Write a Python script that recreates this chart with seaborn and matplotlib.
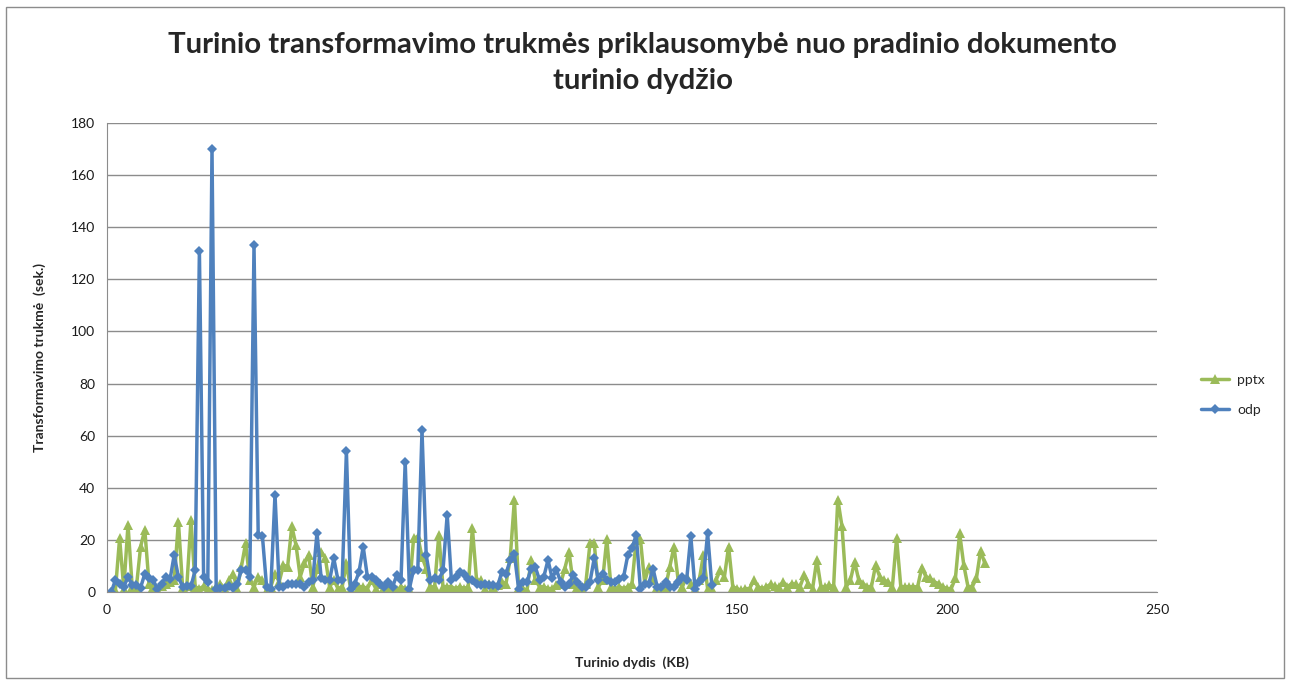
import numpy as np
import pandas as pd
import seaborn as sns
import matplotlib.pyplot as plt
from matplotlib.patches import Rectangle

# odp: transformation time (s), one point per KB starting at 1
odp_vals = [0, 4.5, 3.2, 2, 5.8, 2.6, 2.6, 1.7, 7, 5.2,
            4.5, 1.3, 3.2, 5.8, 4.8, 14.2, 5.8, 2, 2.2, 2.2,
            8.4, 131, 5.8, 3.9, 170, 1.3, 1.5, 1.5, 2.2, 1.5,
            3, 8.6, 8.4, 5.8, 133, 22, 21.5, 2, 1.3, 37.4,
            2, 2, 3.2, 3.2, 3.2, 3.2, 2, 3.9, 4.5, 22.8,
            5.2, 4.5, 4.5, 12.9, 4.5, 4.5, 54, 1.3, 3.2, 7.7,
            17.4, 5.8, 5.8, 4.5, 3.2, 2, 3.9, 2, 6.5, 4.5,
            50, 1.3, 8.6, 8.4, 62, 14.2, 4.5, 5.2, 4.5, 8.4,
            29.7, 4.5, 5.8, 7.7, 7, 4.8, 4.5, 3.2, 2.6, 3,
            2.6, 2.6, 2.2, 7.7, 7, 12.3, 14.6, 1.3, 3.9, 3.9,
            9, 9.5, 4.5, 5.8, 12.3, 5.2, 8.6, 3.9, 2, 3.2,
            6.5, 3.9, 2, 2, 3.9, 12.9, 4.5, 7, 4.5, 3.9,
            3.9, 4.8, 5.8, 14.2, 16.8, 21.9, 1.3, 3.2, 3.2, 9,
            2, 2, 3.9, 2, 2, 3.9, 5.8, 4.5, 21.5, 1.3,
            3.9, 5.2, 22.6, 2.6]

# pptx: transformation time (s), one point per KB starting at 1
pptx_vals = [0, 0.6, 20.6, 1.3, 25.8, 2, 2, 17.4, 23.9, 3.2,
             2, 1.3, 2.2, 3.2, 3.9, 4.5, 27, 2, 2.2, 27.7,
             2, 1.3, 2.2, 1.3, 0.6, 2, 3.2, 1.3, 4.5, 7,
             1.3, 9.7, 18.7, 4.5, 2, 5.8, 4.5, 0.6, 2, 7,
             3.9, 10.3, 9.7, 25.2, 18, 5.8, 11, 14.2, 2, 9,
             15.5, 12.9, 2, 4.5, 1.3, 2, 11, 1.3, 3.2, 2,
             2, 1.3, 4.5, 1.3, 3.2, 2, 2, 0.6, 0.6, 2,
             1.3, 1.3, 20.6, 21.3, 13.5, 9, 2, 2, 21.9, 2,
             2, 2, 1.3, 2, 1.3, 2, 24.5, 4.5, 4.5, 1.3,
             3.2, 2, 2.6, 3.9, 3.2, 12.9, 35.5, 2, 1.3, 0.6,
             12.3, 4.5, 2, 2, 1.3, 1.3, 2.6, 3.2, 9, 15.5,
             3.2, 2, 1.3, 3.2, 18.7, 18.7, 2, 4.5, 20.3, 2,
             1.3, 2, 1.3, 2, 3.2, 20, 20.3, 3.9, 9.7, 4.5,
             2, 1.3, 2, 9.7, 17.4, 4.5, 2, 5.8, 3.2, 1.3,
             4.5, 14.2, 1.3, 1.3, 4.5, 8.4, 5.8, 17.4, 2, 1.3,
             0.6, 1.3, 1.3, 4.5, 2, 1.3, 2, 3, 2.2, 2,
             3.9, 2, 3.2, 3, 2, 6.5, 3.2, 1.3, 12.3, 2,
             2, 2.6, 2, 35.5, 25.2, 2, 4.5, 11.6, 4.5, 3.2,
             2, 2, 10.3, 5.8, 4.5, 3.9, 2, 20.6, 2, 2,
             2, 2, 2, 9.4, 5.8, 5.2, 3.9, 3.2, 2, 1.3,
             1.3, 5.2, 22.6, 10.3, 2, 2, 5.2, 15.9, 11]

odp_kb = np.arange(1, len(odp_vals) + 1)
pptx_kb = np.arange(1, len(pptx_vals) + 1)

x_ticks = [0, 50, 100, 150, 200, 250]
y_ticks = [0, 20, 40, 60, 80, 100, 120, 140, 160, 180]

title = "Turinio transformavimo trukmės priklausomybė nuo pradinio dokumento\nturinio dydžio"
x_label = "Turinio dydis  (KB)"
y_label = "Transformavimo trukmė  (sek.)"

sns.set_style("white")
plt.rcParams['font.family'] = ['Lato', 'DejaVu Sans']

df_pptx = pd.DataFrame({'kb': pptx_kb, 'sek': pptx_vals})
df_odp = pd.DataFrame({'kb': odp_kb, 'sek': odp_vals})

fig = plt.figure(figsize=(12.93, 6.83), dpi=100)
ax = fig.add_axes([107/1293, 1 - 592/683, 1050/1293, 469/683])

sns.lineplot(data=df_pptx, x='kb', y='sek', ax=ax, color='#9BBB59', lw=2.5,
             marker='^', markersize=7, markeredgewidth=0, label='pptx')
sns.lineplot(data=df_odp, x='kb', y='sek', ax=ax, color='#4F81BD', lw=2.5,
             marker='D', markersize=5, markeredgewidth=0, label='odp')

ax.set_xlim(0, 250)
ax.set_ylim(0, 180)
ax.set_xticks(x_ticks)
ax.set_yticks(y_ticks)
ax.yaxis.grid(True, color='#8c8c8c', lw=1)
ax.set_axisbelow(True)
for s in ['top', 'right']:
    ax.spines[s].set_visible(False)
for s in ['left', 'bottom']:
    ax.spines[s].set_color('#8c8c8c')
ax.tick_params(axis='both', direction='out', length=5, color='#8c8c8c',
               labelsize=10, colors='#8c8c8c', labelcolor='#1a1a1a')

ax.set_xlabel(x_label, fontsize=10, fontweight='bold', labelpad=29)
ax.set_ylabel(y_label, fontsize=10, fontweight='bold', labelpad=18)
fig.suptitle(title, fontsize=21.2, fontweight='bold', x=0.497, y=0.953, linespacing=1.45)

ax.legend(loc='center left', bbox_to_anchor=(1.03, 0.42), frameon=False,
          fontsize=10, handlelength=2.0, handletextpad=0.6, labelspacing=1.3)

fig.patches.append(Rectangle((6/1293, 5/683), 1278/1293, 671/683,
                             transform=fig.transFigure, fill=False,
                             edgecolor='#8c8c8c', lw=1))

plt.savefig('out.png', dpi=100)
